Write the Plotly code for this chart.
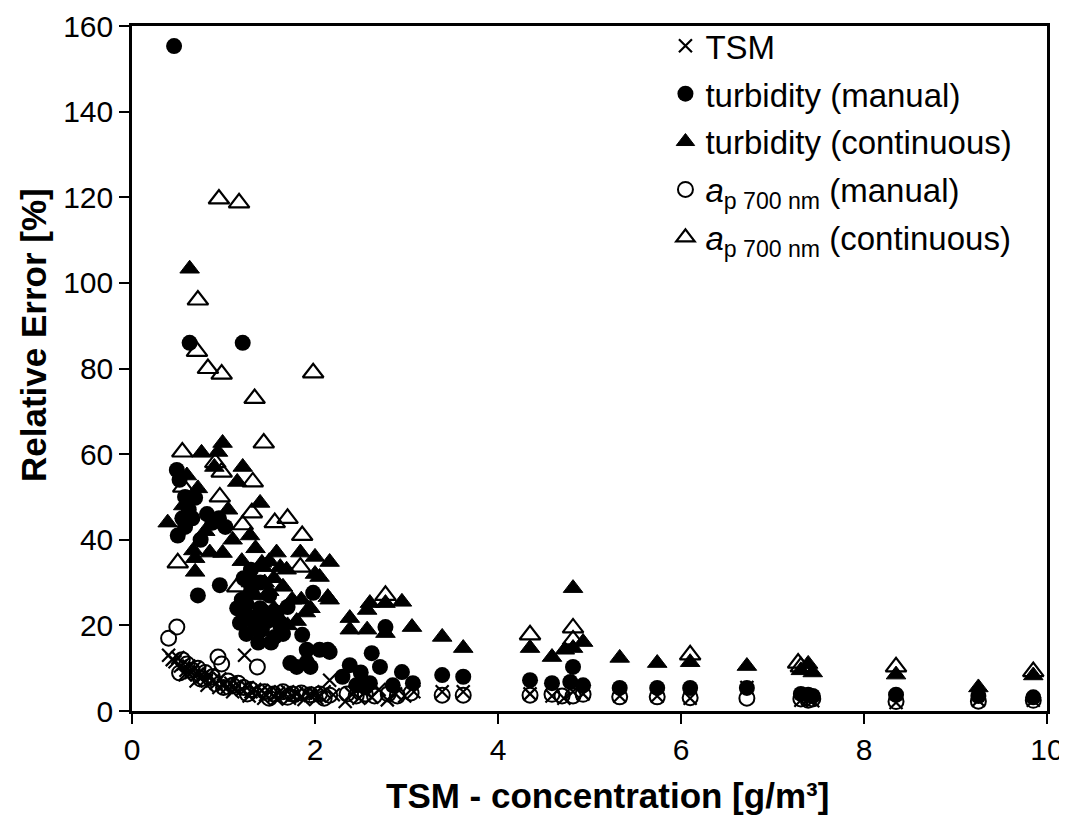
import plotly.graph_objects as go

# ---- data ----
tsm_x = [0.40,0.44,0.47,0.50,0.53,0.56,0.59,0.62,0.65,0.68,0.71,0.74,0.77,0.80,0.84,0.88,0.92,0.96,1.00,1.04,
         1.08,1.12,1.16,1.20,1.23,1.26,1.30,1.34,1.38,1.42,1.46,1.50,1.55,1.60,1.65,1.70,1.75,1.80,1.85,1.90,
         1.95,2.00,2.05,2.10,2.16,2.20,2.33,2.40,2.48,2.55,2.62,2.70,2.79,2.88,2.98,3.08,3.39,3.62,4.35,4.59,
         4.72,4.82,4.93,5.33,5.74,6.10,6.72,7.31,7.39,7.44,8.35,9.25,9.85,
         0.58,0.70,0.82,0.95,1.10,1.28,1.44,1.58,1.72,1.88,2.02]
tsm_y = [13.0,12.0,11.5,12.5,10.5,11.0,9.5,10.5,9.0,10.0,8.5,9.0,8.0,7.2,8.5,7.0,6.5,7.5,6.0,5.5,
         6.5,5.0,6.0,5.0,13.0,5.5,4.5,5.0,4.0,4.8,3.8,4.5,3.5,4.2,3.8,4.5,3.6,4.0,3.4,4.2,
         3.6,4.0,3.5,4.5,7.2,3.8,2.2,4.0,3.0,4.5,3.2,5.0,2.6,4.0,3.5,4.5,4.5,4.5,4.0,3.5,
         3.0,4.5,4.0,3.5,3.5,3.0,5.5,2.5,2.8,2.4,2.0,2.5,2.5,
         8.5,7.0,6.0,5.5,4.5,3.5,3.0,2.8,3.0,2.7,3.0]

turb_man_x = [0.46,0.63,1.21,0.49,0.52,0.50,0.55,0.58,0.62,0.69,0.75,0.82,0.88,0.95,1.02,0.72,0.96,1.18,1.22,1.25,
              1.28,1.30,1.33,1.37,1.38,1.40,1.45,1.50,1.56,1.62,1.70,1.86,1.98,1.91,2.05,2.14,1.73,1.80,1.95,1.91,
              2.16,2.38,2.45,2.55,2.62,2.71,2.77,2.85,2.95,3.07,3.39,3.62,4.35,4.59,4.79,4.82,4.93,5.33,5.74,6.10,
              6.72,7.31,7.39,7.44,8.35,9.25,9.85,
              1.20,1.25,1.32,1.42,1.48,1.52,1.58,1.65,1.30,1.15,1.40,0.58,0.66,2.30,2.50,2.60]
turb_man_y = [155.3,86.0,86.0,56.3,54.0,41.0,45.0,43.0,47.0,49.8,40.0,46.0,44.0,45.0,43.0,27.0,29.4,20.6,31.0,25.0,
              22.0,28.0,30.0,19.0,16.0,24.0,23.0,27.0,17.3,20.0,24.3,17.8,27.6,14.3,14.3,14.3,11.2,10.3,10.3,11.4,
              13.8,10.7,6.0,5.5,13.5,10.3,19.6,6.0,9.1,6.5,8.4,8.0,7.2,6.5,6.8,10.3,6.0,5.4,5.4,5.4,
              5.4,4.0,3.8,3.5,3.8,3.5,3.2,
              26.0,18.0,21.0,19.0,21.0,16.0,23.0,18.0,33.0,24.0,30.0,50.0,45.0,8.0,9.0,6.5]

turb_cont_x = [0.63,0.99,0.94,0.76,1.21,1.15,1.40,0.56,0.39,1.29,0.67,0.85,0.99,1.58,1.84,2.00,2.16,1.42,1.69,2.00,
               0.69,0.69,1.43,1.62,2.05,2.14,2.16,0.60,0.72,0.90,1.05,1.10,0.80,1.30,1.35,1.50,1.55,1.60,1.75,1.80,
               1.90,1.25,2.38,2.38,2.57,2.57,2.60,2.95,2.77,2.77,3.06,3.39,3.62,4.35,4.59,4.73,4.82,4.82,4.93,5.33,
               5.74,6.10,6.72,7.31,7.39,7.44,8.35,9.25,9.85,
               1.35,1.45,1.55,1.65,1.70,1.85,1.95,1.20,1.28,1.50]
turb_cont_y = [103.3,62.6,60.5,60.3,57.0,53.5,48.6,48.0,44.0,41.0,37.5,37.0,36.9,37.0,37.0,36.0,34.8,34.6,33.0,32.0,
               35.7,32.5,33.6,33.6,31.3,26.6,26.0,55.0,52.0,57.0,47.0,40.0,42.0,30.0,27.0,28.0,24.0,22.0,26.0,21.0,
               23.0,22.0,21.7,19.0,23.6,19.0,25.2,25.5,18.2,25.2,19.6,17.3,14.7,14.7,12.6,14.3,14.7,28.7,16.1,12.4,
               11.2,11.4,10.5,9.5,11.0,9.0,8.5,5.5,8.3,
               38.0,30.0,31.0,29.0,20.0,26.0,24.0,35.0,31.0,35.0]

ap_man_x = [0.40,0.49,0.52,0.55,0.60,0.66,0.72,0.80,0.88,0.94,0.98,1.05,1.10,1.16,1.22,1.30,1.37,1.45,1.55,1.65,
            1.75,1.85,1.95,2.05,2.16,2.35,2.45,2.55,2.65,2.80,2.90,3.05,3.39,3.62,4.35,4.59,4.70,4.82,4.93,5.33,
            5.74,6.10,6.72,7.31,7.39,7.44,8.35,9.25,9.85,
            0.75,1.00,1.26,1.50,1.70,2.10]
ap_man_y = [17.0,19.6,8.9,12.0,11.0,9.5,10.0,9.0,8.0,12.6,11.0,7.0,6.0,6.5,5.5,5.0,10.3,4.5,4.0,4.5,
            4.0,4.2,3.8,4.0,3.7,4.0,3.5,4.0,3.5,4.0,3.5,4.2,3.7,3.7,3.7,3.9,3.5,3.5,3.9,3.3,
            3.3,3.1,3.0,2.8,2.5,2.8,2.2,2.3,2.5,
            7.5,5.5,4.0,3.0,3.2,3.0]

ap_cont_x = [0.95,1.17,0.72,0.71,0.83,0.98,1.98,1.34,1.44,0.55,0.91,0.98,1.32,0.56,0.96,1.31,1.56,1.70,1.21,1.86,
             0.50,1.84,1.15,2.77,4.35,4.82,4.82,6.10,7.28,7.31,8.35,9.85]
ap_cont_y = [119.6,118.7,96.0,84.0,80.0,78.7,79.0,73.0,62.6,60.5,58.0,55.8,53.5,52.3,50.0,46.3,44.0,45.0,43.5,41.0,
             34.6,33.6,29.0,27.0,17.8,19.4,16.6,13.1,11.2,10.3,10.3,9.2]

names = ["TSM", "turbidity (manual)", "turbidity (continuous)",
         "<i>a</i><sub>p 700 nm</sub> (manual)", "<i>a</i><sub>p 700 nm</sub> (continuous)"]

x_ticks = [0, 2, 4, 6, 8, 10]
y_ticks = [0, 20, 40, 60, 80, 100, 120, 140, 160]

fig = go.Figure()
fig.add_trace(go.Scatter(x=tsm_x, y=tsm_y, mode="markers", name=names[0], legendgroup="a",
                         marker=dict(symbol="x-thin", size=13, line=dict(color="black", width=2.2))))
fig.add_trace(go.Scatter(x=turb_man_x, y=turb_man_y, mode="markers", name=names[1], legendgroup="b",
                         marker=dict(symbol="circle", size=16, color="black", line=dict(color="black", width=0))))
fig.add_trace(go.Scatter(x=turb_cont_x, y=turb_cont_y, mode="markers", name=names[2], legendgroup="c",
                         marker=dict(symbol="triangle-up", size=17, color="black", line=dict(color="black", width=1))))
fig.add_trace(go.Scatter(x=ap_man_x, y=ap_man_y, mode="markers", name=names[3], legendgroup="d",
                         marker=dict(symbol="circle-open", size=15, color="black", line=dict(color="black", width=2))))
fig.add_trace(go.Scatter(x=ap_cont_x, y=ap_cont_y, mode="markers", name=names[4], legendgroup="e",
                         marker=dict(symbol="triangle-up-open", size=18, color="black", line=dict(color="black", width=2.2))))

base_font = "Liberation Sans, Arial, sans-serif"
tick_font = "Liberation Sans Narrow, Arial Narrow, Liberation Sans, Arial, sans-serif"

fig.update_layout(
    width=1067, height=819,
    # the page body adds an 8 px offset; margins compensate so the plot box lands where the reference has it
    margin=dict(l=124, r=28, t=18, b=116, autoexpand=False),
    paper_bgcolor="white", plot_bgcolor="white",
    font=dict(family=base_font, color="black"),
    showlegend=True,
    legend=dict(x=0.583, y=1.012, xanchor="left", yanchor="top",
                font=dict(size=33, family=base_font, color="black"),
                bgcolor="rgba(0,0,0,0)", borderwidth=0,
                traceorder="grouped", tracegroupgap=2),
    xaxis=dict(range=[0, 10], tickvals=x_ticks, ticktext=[str(v) for v in x_ticks],
               showgrid=False, zeroline=False, showline=True, linecolor="black", linewidth=2.5,
               mirror=True, ticks="outside", ticklen=10, tickwidth=2, tickcolor="black",
               tickfont=dict(size=30, family=tick_font, color="black")),
    yaxis=dict(range=[0, 160], tickvals=y_ticks, ticktext=[str(v) for v in y_ticks],
               showgrid=False, zeroline=False, showline=True, linecolor="black", linewidth=2.5,
               mirror=True, ticks="outside", ticklen=10, tickwidth=2, tickcolor="black",
               tickfont=dict(size=30, family=tick_font, color="black")),
    annotations=[
        dict(text="<b>TSM - concentration [g/m³]</b>", xref="paper", yref="paper",
             x=0.52, y=-0.123, xanchor="center", yanchor="middle", showarrow=False,
             font=dict(size=35, family=base_font, color="black")),
        dict(text="<b>Relative Error [%]</b>", xref="paper", yref="paper",
             x=-0.107, y=0.549, xanchor="center", yanchor="middle", showarrow=False, textangle=-90,
             font=dict(size=35, family=base_font, color="black")),
    ],
)

fig.write_html("out.html")
